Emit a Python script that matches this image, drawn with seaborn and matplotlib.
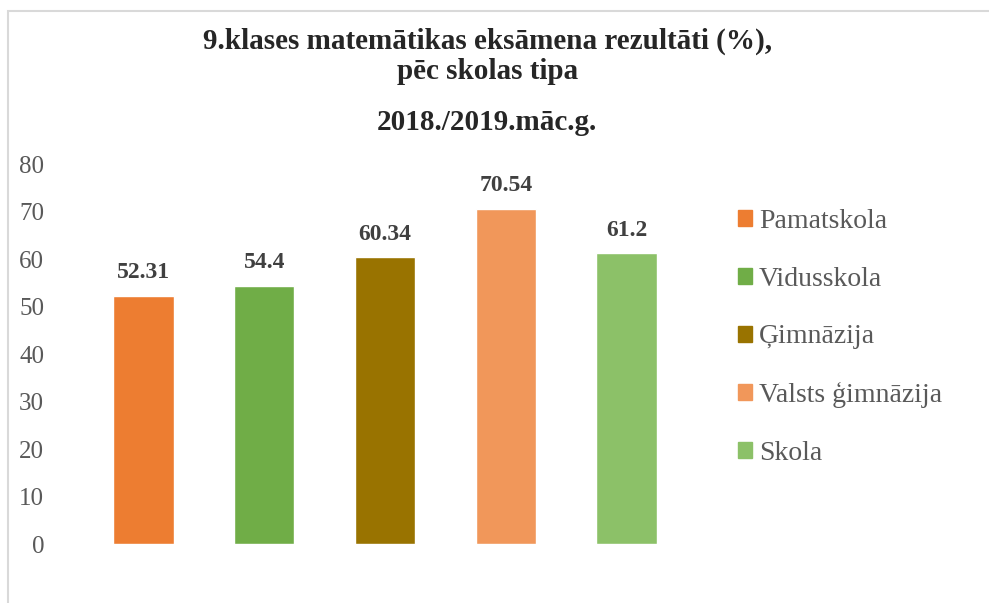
import matplotlib
matplotlib.use("Agg")
import matplotlib.pyplot as plt
import seaborn as sns
import pandas as pd
from matplotlib.patches import Rectangle

# dati no attēla
skolas_tipi = ["Pamatskola", "Vidusskola", "Ģimnāzija", "Valsts ģimnāzija", "Skola"]
rezultati = [52.31, 54.4, 60.34, 70.54, 61.2]
etiketes = ["52.31", "54.4", "60.34", "70.54", "61.2"]
krasas = ["#ED7D31", "#70AD47", "#997300", "#F1975A", "#8CC168"]
y_ticks = [0, 10, 20, 30, 40, 50, 60, 70, 80]

df = pd.DataFrame({"tips": skolas_tipi, "rezultats": rezultati})

sns.set_theme(style="white")
plt.rcParams["font.family"] = ["Liberation Serif", "DejaVu Serif"]

fig = plt.figure(figsize=(9.89, 6.03), dpi=100)
ax = fig.add_axes([0.0839, 0.0978, 0.6108, 0.6302])

sns.barplot(data=df, x="tips", y="rezultats", hue="tips", palette=krasas,
            width=0.5, dodge=False, legend=False, ax=ax, saturation=1)

for i, (v, t) in enumerate(zip(rezultati, etiketes)):
    ax.annotate(t, (i, v), xytext=(0, 9), textcoords="offset points",
                ha="center", va="bottom", fontsize=17, fontweight="bold",
                color="#404040")

ax.set_ylim(0, 80)
ax.set_xlim(-0.5, len(skolas_tipi) - 0.5)
ax.set_yticks(y_ticks)
ax.set_yticklabels([str(t) for t in y_ticks], fontsize=18, color="#595959")
ax.tick_params(axis="y", length=0, pad=28)
ax.set_xticks([])
ax.set_xlabel("")
ax.set_ylabel("")
for s in ax.spines.values():
    s.set_visible(False)

handles = [Rectangle((0, 0), 1, 1, color=c) for c in krasas]
fig.legend(handles, skolas_tipi, loc="upper left", bbox_to_anchor=(0.735, 0.672),
           frameon=False, fontsize=20, labelcolor="#595959",
           handlelength=0.5, handleheight=0.5, handletextpad=0.25,
           labelspacing=1.18, borderaxespad=0)

fig.text(0.4925, 0.932, "9.klases matemātikas eksāmena rezultāti (%),",
         ha="center", va="center", fontsize=21, fontweight="bold")
fig.text(0.4925, 0.882, "pēc skolas tipa",
         ha="center", va="center", fontsize=21, fontweight="bold")
fig.text(0.4925, 0.797, "2018./2019.māc.g.",
         ha="center", va="center", fontsize=21, fontweight="bold")

# rāmis
fig.patches.append(Rectangle((8 / 989, -0.1), 1.2, (1 - 11 / 603) + 0.1,
                             transform=fig.transFigure, fill=False,
                             edgecolor="#D9D9D9", linewidth=1.5))

fig.savefig("out.png", dpi=100)
